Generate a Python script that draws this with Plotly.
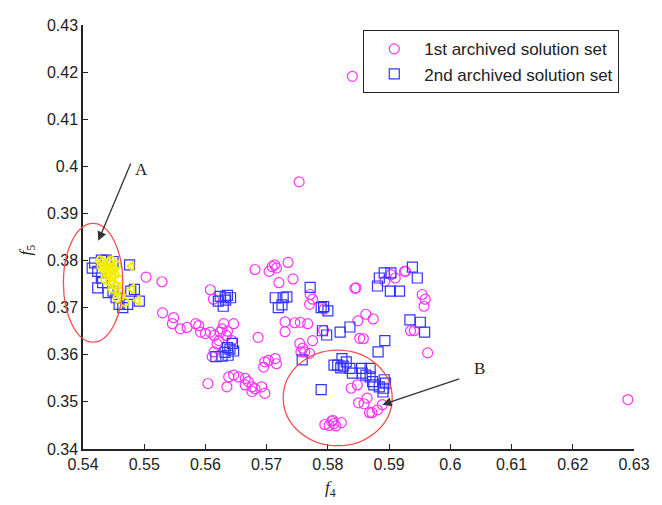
import plotly.graph_objects as go

# 1st archived solution set (f4, f5)
set1_f4 = [
    0.5840, 0.5753, 0.6290,
    0.5503, 0.5529, 0.5530, 0.5548, 0.5546, 0.5559, 0.5570, 0.5584, 0.5589, 0.5592,
    0.5600, 0.5608, 0.5614, 0.5624, 0.5627, 0.5630, 0.5646, 0.5619, 0.5622, 0.5643,
    0.5614, 0.5611, 0.5686, 0.5604, 0.5638, 0.5635, 0.5646, 0.5654, 0.5665, 0.5670,
    0.5665, 0.5676, 0.5681, 0.5692, 0.5697, 0.5676, 0.5695, 0.5703, 0.5714, 0.5716,
    0.5697, 0.5608, 0.5613, 0.5636, 0.5634,
    0.5681, 0.5704, 0.5713, 0.5716, 0.5720, 0.5735, 0.5743, 0.5709,
    0.5730, 0.5730, 0.5755, 0.5746, 0.5767, 0.5775, 0.5754, 0.5759, 0.5756, 0.5762,
    0.5770, 0.5771, 0.5775, 0.5770, 0.5793, 0.5794,
    0.5846, 0.5849, 0.5862, 0.5858, 0.5852, 0.5874, 0.5893, 0.5903, 0.5910, 0.5927,
    0.5935, 0.5941, 0.5954, 0.5959, 0.5957, 0.5963, 0.5844, 0.5925,
    0.5838, 0.5848, 0.5850, 0.5864, 0.5859, 0.5872, 0.5881, 0.5889, 0.5808, 0.5795,
    0.5802, 0.5810, 0.5813, 0.5822, 0.5806, 0.5868,
]
set1_f5 = [
    0.4191, 0.3967, 0.3505,
    0.3765, 0.3755, 0.3689, 0.3679, 0.3666, 0.3655, 0.3658, 0.3666, 0.3662, 0.3648,
    0.3645, 0.3648, 0.3641, 0.3648, 0.3655, 0.3666, 0.3666, 0.3623, 0.3630, 0.3630,
    0.3606, 0.3596, 0.3637, 0.3539, 0.3553, 0.3532, 0.3557, 0.3553, 0.3550, 0.3543,
    0.3536, 0.3532, 0.3528, 0.3532, 0.3518, 0.3522, 0.3574, 0.3588, 0.3592, 0.3581,
    0.3585, 0.3738, 0.3718, 0.3650, 0.3641,
    0.3781, 0.3777, 0.3791, 0.3784, 0.3753, 0.3796, 0.3761, 0.3787,
    0.3670, 0.3649, 0.3669, 0.3668, 0.3666, 0.3630, 0.3624, 0.3614, 0.3606, 0.3606,
    0.3603, 0.3728, 0.3718, 0.3707, 0.3652, 0.3697,
    0.3742, 0.3672, 0.3686, 0.3634, 0.3635, 0.3676, 0.3756, 0.3770, 0.3763, 0.3777,
    0.3651, 0.3651, 0.3728, 0.3718, 0.3703, 0.3604, 0.3741, 0.3777,
    0.3529, 0.3536, 0.3498, 0.3508, 0.3496, 0.3477, 0.3483, 0.3494, 0.3461, 0.3452,
    0.3450, 0.3454, 0.3449, 0.3456, 0.3459, 0.3477,
]

# 2nd archived solution set (f4, f5)
set2_f4 = [
    0.5419, 0.5415, 0.5424, 0.5430, 0.5432, 0.5424, 0.5441, 0.5449, 0.5454, 0.5459,
    0.5465, 0.5473, 0.5478, 0.5484, 0.5492, 0.5476, 0.5449, 0.5438, 0.5430,
    0.5624, 0.5632, 0.5629, 0.5621, 0.5636, 0.5641, 0.5633,
    0.5617, 0.5637, 0.5632, 0.5644, 0.5640, 0.5627, 0.5646, 0.5636,
    0.5714, 0.5727, 0.5733, 0.5719, 0.5725,
    0.5771, 0.5789, 0.5793, 0.5800, 0.5758,
    0.5791, 0.5798, 0.5820, 0.5836,
    0.5810, 0.5816, 0.5823, 0.5825, 0.5830, 0.5821, 0.5840, 0.5836,
    0.5855, 0.5856, 0.5862, 0.5869, 0.5873, 0.5875, 0.5884, 0.5891, 0.5894, 0.5892,
    0.5890, 0.5869, 0.5882, 0.5893, 0.5789,
    0.5881, 0.5892, 0.5884, 0.5902, 0.5917, 0.5903, 0.5938, 0.5946,
    0.5934, 0.5951, 0.5958,
]
set2_f5 = [
    0.3795, 0.3784, 0.3777, 0.3763, 0.3753, 0.3742, 0.3732, 0.3735, 0.3721, 0.3707,
    0.3700, 0.3707, 0.3735, 0.3739, 0.3714, 0.3791, 0.3798, 0.3801, 0.3801,
    0.3724, 0.3721, 0.3703, 0.3714, 0.3726, 0.3721, 0.3716,
    0.3596, 0.3599, 0.3605, 0.3624, 0.3612, 0.3597, 0.3608, 0.3615,
    0.3721, 0.3721, 0.3723, 0.3700, 0.3706,
    0.3743, 0.3700, 0.3702, 0.3693, 0.3589,
    0.3651, 0.3642, 0.3648, 0.3659,
    0.3578, 0.3578, 0.3592, 0.3576, 0.3585, 0.3572, 0.3561, 0.3571,
    0.3571, 0.3561, 0.3557, 0.3553, 0.3543, 0.3536, 0.3532, 0.3529, 0.3540, 0.3547,
    0.3521, 0.3571, 0.3606, 0.3630, 0.3526,
    0.3746, 0.3774, 0.3763, 0.3735, 0.3735, 0.3774, 0.3786, 0.3763,
    0.3674, 0.3669, 0.3648,
]

# Highlighted solutions inside region A
hl_f4 = [
    0.5428, 0.5432, 0.5436, 0.5440, 0.5442, 0.5438, 0.5445, 0.5448, 0.5450, 0.5434,
    0.5430, 0.5440, 0.5446, 0.5452, 0.5436, 0.5444, 0.5450, 0.5455, 0.5458, 0.5448,
    0.5460, 0.5462, 0.5456, 0.5468, 0.5442, 0.5446, 0.5455,
    0.5479, 0.5480, 0.5489,
]
hl_f5 = [
    0.3800, 0.3795, 0.3790, 0.3788, 0.3782, 0.3778, 0.3775, 0.3785, 0.3780, 0.3783,
    0.3788, 0.3770, 0.3766, 0.3770, 0.3760, 0.3755, 0.3750, 0.3745, 0.3760, 0.3740,
    0.3735, 0.3725, 0.3720, 0.3712, 0.3796, 0.3800, 0.3790,
    0.3788, 0.3740, 0.3715,
]
hl_symbol = ["circle-open"] * 27 + ["triangle-left-open"] * 3

x_ticks = [0.54, 0.55, 0.56, 0.57, 0.58, 0.59, 0.60, 0.61, 0.62, 0.63]
x_ticktext = ["0.54", "0.55", "0.56", "0.57", "0.58", "0.59", "0.6", "0.61", "0.62", "0.63"]
y_ticks = [0.34, 0.35, 0.36, 0.37, 0.38, 0.39, 0.40, 0.41, 0.42, 0.43]
y_ticktext = ["0.34", "0.35", "0.36", "0.37", "0.38", "0.39", "0.4", "0.41", "0.42", "0.43"]

X_RANGE = [0.54, 0.63]
Y_RANGE = [0.34, 0.43]

# Highlight regions (f4 min, f4 max, f5 min, f5 max)
region_a = (0.5368, 0.5465, 0.3627, 0.3879)
region_b = (0.5727, 0.5905, 0.3407, 0.3610)

# Callouts: label, label position, arrow tail, arrow head
callout_a = ("A", (0.5495, 0.3994), (0.5479, 0.4009), (0.5425, 0.3842))
callout_b = ("B", (0.6048, 0.3571), (0.6017, 0.3550), (0.5889, 0.3494))

W, H = 662, 505
M = dict(l=83, r=24, t=25, b=56)
PLOT_W = W - M["l"] - M["r"]
PLOT_H = H - M["t"] - M["b"]


def px(v):
    return (v - X_RANGE[0]) / (X_RANGE[1] - X_RANGE[0])


def py(v):
    return (v - Y_RANGE[0]) / (Y_RANGE[1] - Y_RANGE[0])


fig = go.Figure()
fig.add_trace(go.Scatter(
    x=set1_f4, y=set1_f5, mode="markers", name="1st archived solution set",
    marker=dict(symbol="circle-open", size=10, color="#ff33ff", line=dict(width=1.2)),
))
fig.add_trace(go.Scatter(
    x=set2_f4, y=set2_f5, mode="markers", name="2nd archived solution set",
    marker=dict(symbol="square-open", size=10, color="#3333ff", line=dict(width=1.2)),
))
fig.add_trace(go.Scatter(
    x=hl_f4, y=hl_f5, mode="markers", showlegend=False,
    marker=dict(symbol=hl_symbol, size=8, color="#f2ee00", line=dict(width=2)),
))

shapes = []
for r in (region_a, region_b):
    shapes.append(dict(
        type="circle", xref="paper", yref="paper",
        x0=px(r[0]), x1=px(r[1]), y0=py(r[2]), y1=py(r[3]),
        line=dict(color="#f05050", width=1.3),
    ))

annotations = []
for label, lpos, tail, head in (callout_a, callout_b):
    annotations.append(dict(
        x=head[0], y=head[1], ax=tail[0], ay=tail[1],
        xref="x", yref="y", axref="x", ayref="y",
        showarrow=True, arrowhead=2, arrowsize=1.4, arrowwidth=1.3,
        arrowcolor="#333333", text="",
    ))
    annotations.append(dict(
        x=lpos[0], y=lpos[1], xref="x", yref="y", text=label, showarrow=False,
        font=dict(family="Liberation Serif", size=17, color="#222222"),
    ))

annotations.append(dict(
    x=(332 - M["l"]) / PLOT_W, y=-0.095, xref="paper", yref="paper",
    text="<i>f</i><sub>4</sub>", showarrow=False, xanchor="center", yanchor="middle",
    font=dict(family="Liberation Serif", size=17, color="#222222"),
))
annotations.append(dict(
    x=(27 - M["l"]) / PLOT_W, y=(H - M["b"] - 250) / PLOT_H, xref="paper", yref="paper",
    text="<i>f</i><sub>5</sub>", showarrow=False, textangle=-90,
    xanchor="center", yanchor="middle",
    font=dict(family="Liberation Serif", size=17, color="#222222"),
))

axis_common = dict(
    showgrid=False, zeroline=False, showline=True, linecolor="#222222", linewidth=1.5,
    ticks="inside", ticklen=5, tickwidth=1.3, tickcolor="#222222",
    tickfont=dict(family="Liberation Sans", size=16, color="#222222"),
    mirror=False,
)

fig.update_layout(
    width=W, height=H, margin=M,
    paper_bgcolor="white", plot_bgcolor="white",
    xaxis=dict(range=X_RANGE, tickvals=x_ticks, ticktext=x_ticktext, **axis_common),
    yaxis=dict(range=Y_RANGE, tickvals=y_ticks, ticktext=y_ticktext, **axis_common),
    showlegend=True,
    legend=dict(
        x=(365 - M["l"]) / PLOT_W, y=(H - M["b"] - 30) / PLOT_H,
        xanchor="left", yanchor="top",
        bordercolor="#222222", borderwidth=1.3, bgcolor="white",
        font=dict(family="Liberation Sans", size=17, color="#222222"),
        tracegroupgap=0, itemwidth=50,
    ),
    shapes=shapes,
    annotations=annotations,
)

fig.write_html("out.html")
